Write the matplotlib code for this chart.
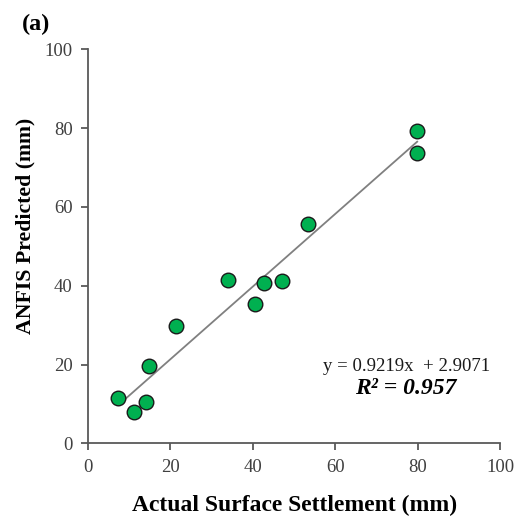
import matplotlib.pyplot as plt
import numpy as np

actual = [7.4, 11.2, 14.1, 14.9, 21.4, 34.0, 40.6, 42.6, 47.2, 53.4, 79.9, 79.9]
predicted = [11.4, 7.9, 10.6, 19.7, 29.8, 41.5, 35.3, 40.6, 41.2, 55.6, 79.3, 73.6]
slope, intercept = 0.9219, 2.9071
ticks = [0, 20, 40, 60, 80, 100]

plt.rcParams['font.family'] = ['Liberation Serif', 'DejaVu Serif']

fig = plt.figure(figsize=(5.16, 5.17), dpi=100)
ax = fig.add_axes([0.1705, 0.1425, 0.7985, 0.762])

xl = np.array([min(actual), max(actual)])
ax.plot(xl, slope * xl + intercept, color='#808080', lw=1.3, zorder=2)
ax.scatter(actual, predicted, s=110, color='#00b050', edgecolor='#1a1a1a', linewidth=1.0, zorder=3)

ax.set_xlim(0, 100)
ax.set_ylim(0, 100)
ax.set_xticks(ticks)
ax.set_yticks(ticks)
for s in ['top', 'right']:
    ax.spines[s].set_visible(False)
for s in ['left', 'bottom']:
    ax.spines[s].set_color('#595959')
    ax.spines[s].set_linewidth(1.3)
ax.tick_params(direction='out', length=5, width=1.3, color='#595959', labelcolor='#404040', labelsize=13.5, pad=6)

# axis titles placed in figure coords
fig.text(295 / 516, 1 - 505 / 517, 'Actual Surface Settlement (mm)', fontsize=17, fontweight='bold',
         ha='center', va='center')
fig.text(25 / 516, 1 - 226 / 517, 'ANFIS Predicted (mm)', fontsize=15.7, fontweight='bold',
         rotation=90, ha='center', va='center')

ax.text(0.570, 0.196, 'y = 0.9219x  + 2.9071', transform=ax.transAxes, fontsize=13.5, color='#1a1a1a',
        ha='left', va='center')
ax.text(0.648, 0.138, 'R² = 0.957', transform=ax.transAxes, fontsize=17, fontweight='bold', fontstyle='italic',
        ha='left', va='center')
fig.text(0.042, 1 - 24 / 517, '(a)', fontsize=17.5, fontweight='bold', va='center')

fig.savefig('out.png', dpi=100)
